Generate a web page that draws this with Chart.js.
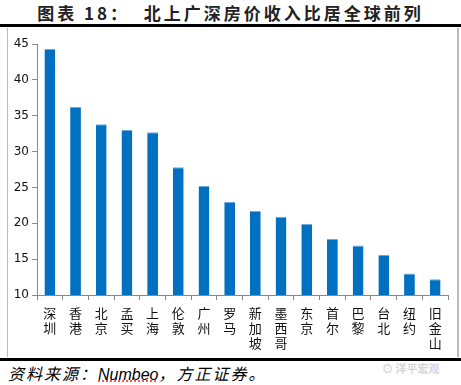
<!DOCTYPE html>
<html>
<head>
<meta charset="utf-8">
<script src="https://cdn.jsdelivr.net/npm/chart.js@4"></script>
<style>
  body { margin: 0; width: 461px; height: 385px; background: #fff; position: relative; overflow: hidden;
         font-family: "Noto Sans CJK SC", "DejaVu Sans", sans-serif; }
  #title { position: absolute; left: 0; top: 0px; width: 461px; text-align: center; font-size: 17px; font-weight: bold; color: #222; letter-spacing: 3px; }
  #topLine { position: absolute; left: 0; top: 24px; width: 461px; height: 3px; background: #000; }
  #box { position: absolute; left: 7px; top: 28px; width: 449px; height: 329px; border-left: 1px solid #bbb; border-right: 2px solid #bbb; }
  #botLine { position: absolute; left: 0; top: 358px; width: 461px; height: 3px; background: #000; }
  #source { position: absolute; left: 8px; top: 361px; font-size: 16px; font-style: italic; color: #000; letter-spacing: 2px; }
  #source .nb { font-family: "Liberation Sans", sans-serif; letter-spacing: 0; text-decoration: underline dotted #e33; }
  #mark { position: absolute; left: 382px; top: 360px; font-size: 11px; color: #d6d6d6; font-weight: bold; }
  canvas { position: absolute; left: 8px; top: 28px; }
</style>
</head>
<body>
<div id="title">图表 18：&nbsp;&nbsp;北上广深房价收入比居全球前列</div>
<div id="topLine"></div>
<div id="box"></div>
<canvas id="ratioChart" width="449" height="329"></canvas>
<div id="botLine"></div>
<div id="source">资料来源：<span class="nb">Numbeo</span>，方正证券。</div>
<div id="mark">⊙ 洋平宏观</div>
<script>
// cities and price-to-income ratios
const cities = ["深圳", "香港", "北京", "孟买", "上海", "伦敦", "广州", "罗马", "新加坡", "墨西哥", "东京", "首尔", "巴黎", "台北", "纽约", "旧金山"];
const ratios = [44.3, 36.2, 33.8, 33.0, 32.7, 27.8, 25.2, 23.0, 21.7, 20.9, 19.9, 17.8, 16.9, 15.6, 13.0, 12.2];
const yTicks = [10, 15, 20, 25, 30, 35, 40, 45];

const ctx = document.getElementById("ratioChart").getContext("2d");
const ratioChart = new Chart(ctx, {
  type: 'bar',
  data: {
    labels: cities.map(c => c.split("")),
    datasets: [
      { data: ratios, backgroundColor: "#0070c0", borderColor: "#6fa8dc", borderWidth: { top: 1 }, barPercentage: 0.42, categoryPercentage: 1 }
    ]
  },
  options: {
    animation: false,
    responsive: false,
    layout: { padding: { top: 16, right: 9, left: 0, bottom: 0 } },
    plugins: { legend: { display: false }, tooltip: { enabled: false } },
    scales: {
      x: {
        afterFit: s => { s.height = 62; },
        grid: { display: true, drawOnChartArea: false, tickLength: 5, color: "#888", offset: true },
        border: { color: "#888", width: 1 },
        ticks: {
          color: "#111", maxRotation: 0, minRotation: 0, padding: 6,
          font: { size: 13, family: "Noto Sans CJK SC", lineHeight: 1.15 }
        }
      },
      y: {
        min: 10, max: 45,
        afterFit: s => { s.width = 29; },
        afterBuildTicks: s => { s.ticks = yTicks.map(v => ({ value: v })); },
        grid: { display: true, drawOnChartArea: false, tickLength: 5, color: "#888" },
        border: { color: "#888", width: 1 },
        ticks: { color: "#111", padding: 3, font: { size: 12, family: "DejaVu Sans" } }
      }
    }
  }
});
</script>
</body>
</html>
